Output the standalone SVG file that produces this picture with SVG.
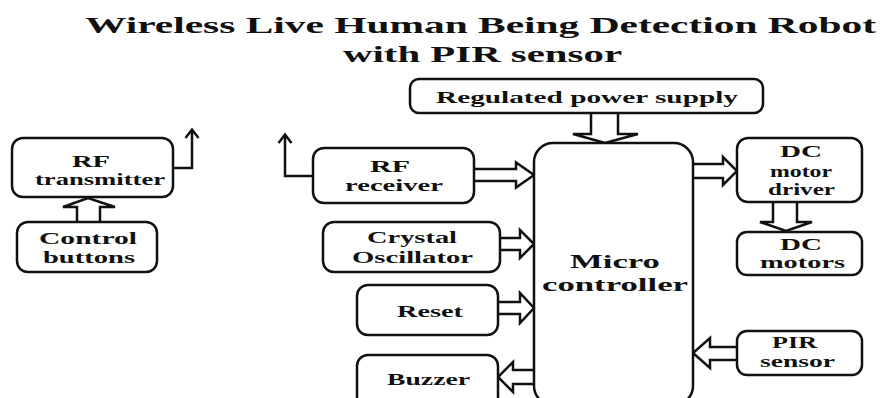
<svg xmlns="http://www.w3.org/2000/svg" width="883" height="398" viewBox="0 0 883 398">
<style>
.box{fill:#fff;stroke:#111;stroke-width:2.5}
.t{font-family:"Liberation Serif","Times New Roman",serif;font-weight:bold;font-size:17px;fill:#111;text-anchor:middle}
.title{font-size:23px}
.big{font-size:19px}
.arr{fill:#fff;stroke:#111;stroke-width:2.5;stroke-linejoin:miter}
.ln{fill:none;stroke:#111;stroke-width:2.5}
</style>
<rect width="883" height="398" fill="#fff"/>
<g id="title">
<text class="t title" x="480.5" y="33" textLength="791" lengthAdjust="spacingAndGlyphs">Wireless Live Human Being Detection  Robot</text>
<text class="t title" x="482.5" y="62" textLength="279" lengthAdjust="spacingAndGlyphs">with PIR sensor</text>
</g>
<g id="connectors">
<path class="arr" d="M474,169 L516,169 L516,162.5 L534,175 L516,187.5 L516,181 L474,181"/>
<path class="arr" d="M500,238 L520,238 L520,230 L534,244 L520,258 L520,250 L500,250"/>
<path class="arr" d="M498,302 L520,302 L520,293 L534,308 L520,323 L520,314 L498,314"/>
<path class="arr" d="M534,370 L513,370 L513,362 L498,377 L513,392 L513,384 L534,384"/>
<path class="arr" d="M693,164 L723,164 L723,157 L737,171 L723,185 L723,178 L693,178"/>
<path class="arr" d="M737,347 L710,347 L710,338 L693,353 L710,368 L710,360 L737,360"/>
<path class="arr" d="M591,113 L591,134 L573,134 L605,143 L638,134 L618,134 L618,113"/>
<path class="arr" d="M773,202 L773,222 L760,222 L786,231 L812,222 L797,222 L797,202"/>
<path class="arr" d="M77,222 L77,207 L63,207 L88,198 L115,207 L100,207 L100,222"/>
<path class="ln" d="M173,168 L192,168 L192,130 M185.5,138 L192,129.5 L198.5,138"/>
<path class="ln" d="M313,176 L285,176 L285,135 M278.5,143 L285,134.5 L291.5,143"/>
</g>
<g id="power">
<rect class="box" x="410" y="79" width="353" height="34" rx="9"/>
<text class="t" x="587" y="103" textLength="302" lengthAdjust="spacingAndGlyphs">Regulated power supply</text>
</g>
<g id="rf-transmitter">
<rect class="box" x="12" y="138" width="161" height="59" rx="11"/>
<text class="t" x="91" y="167" textLength="38" lengthAdjust="spacingAndGlyphs">RF</text>
<text class="t" x="100" y="185" textLength="130" lengthAdjust="spacingAndGlyphs">transmitter</text>
</g>
<g id="control-buttons">
<rect class="box" x="17" y="222" width="140" height="50" rx="11"/>
<text class="t" x="88" y="244" textLength="98" lengthAdjust="spacingAndGlyphs">Control</text>
<text class="t" x="89" y="263" textLength="92" lengthAdjust="spacingAndGlyphs">buttons</text>
</g>
<g id="rf-receiver">
<rect class="box" x="313" y="148" width="161" height="55" rx="11"/>
<text class="t" x="390" y="172" textLength="40" lengthAdjust="spacingAndGlyphs">RF</text>
<text class="t" x="394" y="191" textLength="98" lengthAdjust="spacingAndGlyphs">receiver</text>
</g>
<g id="crystal">
<rect class="box" x="323" y="222" width="177" height="50" rx="11"/>
<text class="t" x="412" y="243" textLength="90" lengthAdjust="spacingAndGlyphs">Crystal</text>
<text class="t" x="412.5" y="263" textLength="121" lengthAdjust="spacingAndGlyphs">Oscillator</text>
</g>
<g id="reset">
<rect class="box" x="357" y="285" width="141" height="50" rx="11"/>
<text class="t" x="430" y="317" textLength="66" lengthAdjust="spacingAndGlyphs">Reset</text>
</g>
<g id="buzzer">
<rect class="box" x="357" y="355" width="141" height="60" rx="11"/>
<text class="t" x="428.5" y="385" textLength="83" lengthAdjust="spacingAndGlyphs">Buzzer</text>
</g>
<g id="microcontroller">
<rect class="box" x="534" y="143" width="159" height="262" rx="19"/>
<text class="t big" x="615" y="268" textLength="90" lengthAdjust="spacingAndGlyphs">Micro</text>
<text class="t big" x="615" y="291" textLength="146" lengthAdjust="spacingAndGlyphs">controller</text>
</g>
<g id="dc-motor-driver">
<rect class="box" x="737" y="138" width="125" height="64" rx="11"/>
<text class="t" x="801" y="157" textLength="42" lengthAdjust="spacingAndGlyphs">DC</text>
<text class="t" x="801" y="177" textLength="62" lengthAdjust="spacingAndGlyphs">motor</text>
<text class="t" x="801.5" y="195" textLength="67" lengthAdjust="spacingAndGlyphs">driver</text>
</g>
<g id="dc-motors">
<rect class="box" x="737" y="232" width="125" height="43" rx="10"/>
<text class="t" x="801" y="250" textLength="42" lengthAdjust="spacingAndGlyphs">DC</text>
<text class="t" x="802.5" y="268" textLength="85" lengthAdjust="spacingAndGlyphs">motors</text>
</g>
<g id="pir-sensor">
<rect class="box" x="737" y="331" width="125" height="44" rx="10"/>
<text class="t" x="794.5" y="348" textLength="45" lengthAdjust="spacingAndGlyphs">PIR</text>
<text class="t" x="797.5" y="367" textLength="75" lengthAdjust="spacingAndGlyphs">sensor</text>
</g>
</svg>
